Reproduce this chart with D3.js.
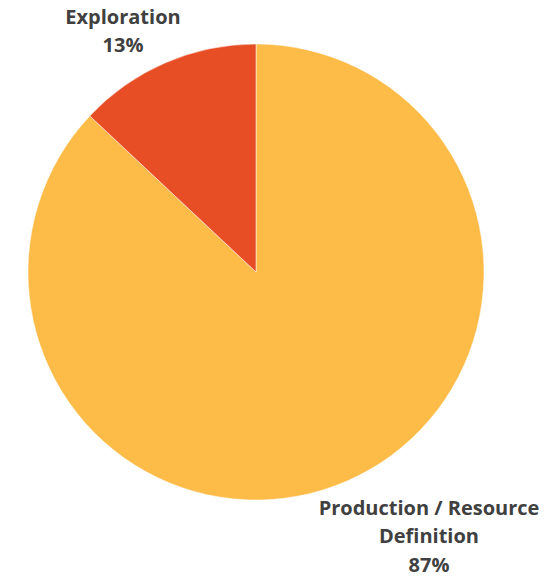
<!DOCTYPE html>
<html>
<head>
<meta charset="utf-8">
<script src="https://cdn.jsdelivr.net/npm/d3@7"></script>
<style>
  body { margin: 0; background: #fff; }
  text { font-family: "Open Sans", sans-serif; font-weight: bold; fill: #404040; }
</style>
</head>
<body>
<div id="chart"></div>
<script>
// data
const categories = ["Production / Resource Definition", "Exploration"];
const shares = [87, 13];
const colors = ["#FDBB48", "#E74E26"];

const width = 553, height = 577;
const cx = 256, cy = 272, radius = 228;

const svg = d3.select("#chart").append("svg")
    .attr("width", width)
    .attr("height", height);

const pie = d3.pie().sort(null).value(d => d.value);
const arc = d3.arc().innerRadius(0).outerRadius(radius);

const slices = pie(categories.map((c, i) => ({ name: c, value: shares[i], color: colors[i] })));

const g = svg.append("g").attr("transform", "translate(" + cx + "," + cy + ")");

g.selectAll("path")
    .data(slices)
    .join("path")
    .attr("d", arc)
    .attr("fill", d => d.data.color)
    .attr("stroke", "#fff")
    .attr("stroke-width", 0.5);

// labels sit outside the pie, like the original
const labelPos = [
    { x: 429, y: 515, lines: ["Production / Resource", "Definition", shares[0] + "%"] },
    { x: 123, y: 24, lines: [categories[1], shares[1] + "%"] }
];

labelPos.forEach(function (p) {
    const t = svg.append("text")
        .attr("text-anchor", "middle")
        .attr("font-size", 20)
        .attr("x", p.x)
        .attr("y", p.y);
    p.lines.forEach(function (l, j) {
        t.append("tspan").attr("x", p.x).attr("dy", j === 0 ? 0 : 28.3).text(l);
    });
});
</script>
</body>
</html>
